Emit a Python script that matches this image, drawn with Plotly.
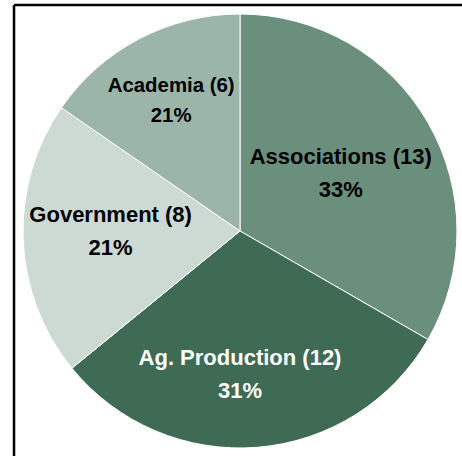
import plotly.graph_objects as go

categories = ["Associations", "Ag. Production", "Government", "Academia"]
counts = [13, 12, 8, 6]
pct_labels = ["33%", "31%", "21%", "21%"]

colors = ["#6B8F7D", "#3F6B55", "#CDDAD3", "#9BB5A8"]
text_colors = ["#000000", "#FFFFFF", "#000000", "#000000"]

texts = [
    f'<span style="font-size:22px"><b>{c} ({n})</b></span><br><span style="font-size:22px"><b>{p}</b></span>'
    for c, n, p in zip(categories, counts, pct_labels)
]

fig = go.Figure(go.Pie(
    labels=categories,
    values=counts,
    text=texts,
    textinfo="text",
    textposition="inside",
    insidetextorientation="horizontal",
    sort=False,
    direction="clockwise",
    rotation=0,
    marker=dict(colors=colors, line=dict(color="#FFFFFF", width=1)),
    textfont=dict(family="Liberation Sans, Arial, sans-serif", size=25, color=text_colors),
    hoverinfo="label+value",
))

fig.update_layout(
    width=462, height=456,
    margin=dict(l=23, r=5, t=14, b=8),
    paper_bgcolor="white",
    plot_bgcolor="white",
    showlegend=False,
    shapes=[
        dict(type="line", xref="paper", yref="paper", x0=-0.0207, x1=1.02, y0=1.0207, y1=1.0207,
             line=dict(color="black", width=2.5)),
        dict(type="line", xref="paper", yref="paper", x0=-0.0207, x1=-0.0207, y0=1.0207, y1=-0.03,
             line=dict(color="black", width=2.5)),
    ],
)

fig.write_html("out.html", config={"displayModeBar": False},
               post_script="document.body.style.margin='0';")
